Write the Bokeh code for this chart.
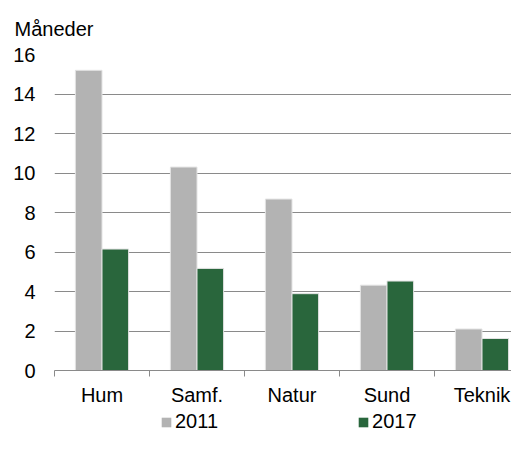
import numpy as np
from bokeh.plotting import figure
from bokeh.layouts import column
from bokeh.models import (ColumnDataSource, Range1d, FixedTicker, Legend, LegendItem)
from bokeh.embed import file_html
from bokeh.resources import INLINE

categories = ["Hum", "Samf.", "Natur", "Sund", "Teknik"]
series_names = ["2011", "2017"]
values_2011 = [15.2, 10.3, 8.68, 4.32, 2.1]
values_2017 = [6.15, 5.17, 3.89, 4.53, 1.62]
y_ticks = [0, 2, 4, 6, 8, 10, 12, 14, 16]
y_title = "Måneder"

FONT = "Liberation Sans"
GRAY = "#b3b3b3"
GREEN = "#29663c"
GRID = "#8a8a8a"
EDGE = "#e3e3e3"

idx = np.arange(len(categories))
bw = 0.28
src = ColumnDataSource(dict(
    x1=idx + 0.5 - bw / 2, x2=idx + 0.5 + bw / 2,
    v1=values_2011, v2=values_2017,
))

p = figure(width=511, height=408, output_backend="svg", toolbar_location=None,
           x_range=Range1d(0, 457 / 95), y_range=Range1d(0, 16),
           min_border_left=54, min_border_right=0, min_border_top=53,
           min_border_bottom=30)
p.outline_line_color = None

p.title.text = y_title
p.title.align = "left"
p.title.offset = -40
p.title.standoff = 30
p.title.text_font = FONT
p.title.text_font_size = "20px"
p.title.text_font_style = "normal"
p.title.text_color = "black"

p.vbar(x="x1", top="v1", width=bw, source=src, fill_color=GRAY,
       line_color=EDGE, line_width=1)
p.vbar(x="x2", top="v2", width=bw, source=src, fill_color=GREEN,
       line_color=EDGE, line_width=1)

# y axis
p.yaxis.ticker = FixedTicker(ticks=y_ticks)
p.yaxis.axis_line_color = None
p.yaxis.major_tick_line_color = None
p.yaxis.minor_tick_line_color = None
p.yaxis.major_tick_out = 0
p.yaxis.major_tick_in = 0
p.yaxis.minor_tick_out = 0
p.yaxis.minor_tick_in = 0
p.yaxis.major_label_standoff = 19
p.yaxis.major_label_text_font = FONT
p.yaxis.major_label_text_font_size = "20px"
p.yaxis.major_label_text_color = "black"

p.ygrid.ticker = FixedTicker(ticks=y_ticks)
p.ygrid.grid_line_color = GRID
p.ygrid.grid_line_width = 1
p.xgrid.grid_line_color = None

# x axis: labels at category centres, ticks at category boundaries
p.xaxis.ticker = FixedTicker(ticks=list(idx + 0.5), minor_ticks=list(idx.astype(float)))
p.xaxis.major_label_overrides = {float(i + 0.5): c for i, c in enumerate(categories)}
p.xaxis.major_tick_out = 0
p.xaxis.major_tick_in = 0
p.xaxis.minor_tick_out = 6
p.xaxis.minor_tick_in = 0
p.xaxis.minor_tick_line_color = GRID
p.xaxis.axis_line_color = GRID
p.xaxis.major_label_standoff = 7
p.xaxis.major_label_text_font = FONT
p.xaxis.major_label_text_font_size = "20px"
p.xaxis.major_label_text_color = "black"

# legend strip
lg = figure(width=511, height=25, output_backend="svg", toolbar_location=None,
            x_range=Range1d(0, 1), y_range=Range1d(0, 1),
            min_border_left=0, min_border_right=0, min_border_top=0,
            min_border_bottom=0)
lg.axis.visible = False
lg.grid.visible = False
lg.outline_line_color = None
lg.border_fill_color = "white"
lg.background_fill_color = "white"
off = ColumnDataSource(dict(x=[0.5], top=[0.0], bottom=[0.0]))
g1 = lg.vbar(x="x", top="top", bottom="bottom", width=0.001, source=off,
             fill_color=GRAY, line_color=None)
g2 = lg.vbar(x="x", top="top", bottom="bottom", width=0.001, source=off,
             fill_color=GREEN, line_color=None)
legend = Legend(items=[LegendItem(label=series_names[0], renderers=[g1]),
                       LegendItem(label=series_names[1], renderers=[g2])],
                orientation="horizontal", location=(106, 0),
                spacing=139, glyph_width=12, glyph_height=12, label_standoff=3,
                padding=0, margin=0, border_line_color=None,
                background_fill_alpha=0,
                label_text_font=FONT, label_text_font_size="20px",
                label_text_color="black")
lg.add_layout(legend, "center")

layout = column(p, lg, spacing=0)
open("out.html", "w").write(file_html(layout, INLINE))
